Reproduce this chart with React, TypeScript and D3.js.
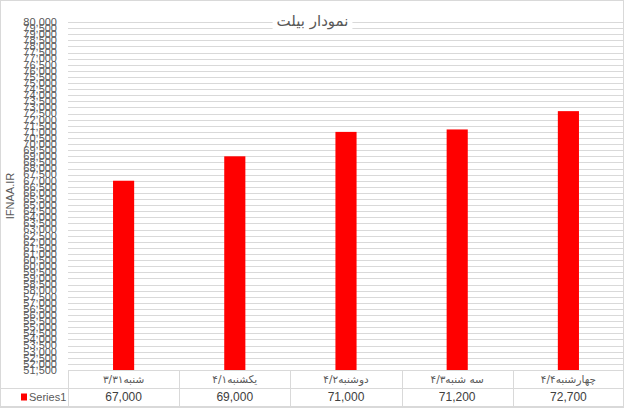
import React, { useEffect, useRef } from "react";
import * as d3 from "d3";

// Data
const CATEGORIES = ["شنبه۳/۳۱", "یکشنبه۴/۱", "دوشنبه۴/۲", "سه شنبه۴/۳", "چهارشنبه۴/۴"];
const VALUES = [67000, 69000, 71000, 71200, 72700];
const SERIES_NAME = "Series1";
const TITLE = "نمودار بیلت";
const Y_LABEL = "IFNAA.IR";
const Y_MIN = 51500;
const Y_MAX = 80000;
const Y_STEP = 500;

const W = 625;
const H = 409;
const GRID = "#d9d9d9";
const TEXT = "#595959";
const FONT = "'Liberation Sans', 'DejaVu Sans', Arial, sans-serif";

export default function App() {
    const ref = useRef<SVGSVGElement | null>(null);

    useEffect(() => {
        if (!ref.current) return;
        const svg = d3.select(ref.current);
        svg.selectAll("*").remove();

        const plot = { left: 68, right: 624, top: 22, bottom: 370 };
        const rowH = 18;

        const x = d3.scaleBand<string>().domain(CATEGORIES).range([plot.left, plot.right]).padding(0);
        const y = d3.scaleLinear().domain([Y_MIN, Y_MAX]).range([plot.bottom, plot.top]);
        const ticks = d3.range(Y_MIN, Y_MAX + 1, Y_STEP);
        const fmt = d3.format(",");

        // chart background + border
        svg.append("rect").attr("x", 0.5).attr("y", 0.5).attr("width", W - 2).attr("height", H - 2)
            .attr("fill", "#fff").attr("stroke", GRID);

        // gridlines
        svg.append("g").selectAll("line").data(ticks).join("line")
            .attr("x1", plot.left).attr("x2", plot.right)
            .attr("y1", d => Math.round(y(d)) + 0.5).attr("y2", d => Math.round(y(d)) + 0.5)
            .attr("stroke", GRID).attr("stroke-width", 1);

        // y tick labels (they overlap, as in the original)
        svg.append("g").selectAll("text").data(ticks).join("text")
            .attr("x", 57).attr("y", d => y(d))
            .attr("dy", "0.35em")
            .attr("text-anchor", "end")
            .attr("font-family", FONT).attr("font-size", 11).attr("fill", TEXT)
            .text(d => fmt(d));

        // y axis title
        svg.append("text")
            .attr("transform", `translate(14,${(plot.top + plot.bottom) / 2}) rotate(-90)`)
            .attr("text-anchor", "middle")
            .attr("font-family", FONT).attr("font-size", 11).attr("fill", TEXT)
            .text(Y_LABEL);

        // bars
        const barW = x.bandwidth() * 0.19;
        svg.append("g").selectAll("rect").data(VALUES).join("rect")
            .attr("x", (d, i) => (x(CATEGORIES[i]) as number) + (x.bandwidth() - barW) / 2)
            .attr("y", d => y(d))
            .attr("width", barW)
            .attr("height", d => plot.bottom - y(d))
            .attr("fill", "#ff0000");

        // data table
        const table = svg.append("g").attr("stroke", GRID).attr("stroke-width", 1);
        table.append("line").attr("x1", plot.left).attr("x2", plot.right)
            .attr("y1", plot.bottom + 0.5).attr("y2", plot.bottom + 0.5);
        table.append("line").attr("x1", 0).attr("x2", plot.right)
            .attr("y1", plot.bottom + rowH + 0.5).attr("y2", plot.bottom + rowH + 0.5);
        table.append("line").attr("x1", 0).attr("x2", plot.right)
            .attr("y1", plot.bottom + rowH * 2 + 0.5).attr("y2", plot.bottom + rowH * 2 + 0.5);
        table.selectAll("line.v").data(CATEGORIES).join("line")
            .attr("class", "v")
            .attr("x1", d => Math.round(x(d) as number) + 0.5).attr("x2", d => Math.round(x(d) as number) + 0.5)
            .attr("y1", plot.bottom).attr("y2", plot.bottom + rowH * 2);

        svg.append("g").selectAll("text").data(CATEGORIES).join("text")
            .attr("x", d => (x(d) as number) + x.bandwidth() / 2)
            .attr("y", plot.bottom + rowH / 2)
            .attr("dy", "0.35em")
            .attr("text-anchor", "middle")
            .attr("font-family", "'DejaVu Sans', sans-serif").attr("font-size", 10.5).attr("fill", TEXT)
            .text(d => d);

        svg.append("g").selectAll("text").data(VALUES).join("text")
            .attr("x", (d, i) => (x(CATEGORIES[i]) as number) + x.bandwidth() / 2)
            .attr("y", plot.bottom + rowH * 1.5)
            .attr("dy", "0.35em")
            .attr("text-anchor", "middle")
            .attr("font-family", FONT).attr("font-size", 12).attr("fill", "#404040")
            .text(d => fmt(d));

        // legend key
        svg.append("rect").attr("x", 21).attr("y", plot.bottom + rowH * 1.5 - 3.5)
            .attr("width", 6).attr("height", 7).attr("fill", "#ff0000");
        svg.append("text").attr("x", 29).attr("y", plot.bottom + rowH * 1.5)
            .attr("dy", "0.35em")
            .attr("font-family", FONT).attr("font-size", 11).attr("fill", TEXT)
            .text(SERIES_NAME);

        // title with white backdrop over the gridlines
        const title = svg.append("text")
            .attr("x", W / 2).attr("y", 26)
            .attr("text-anchor", "middle")
            .attr("font-family", "'DejaVu Sans', sans-serif").attr("font-size", 15).attr("fill", TEXT)
            .text(TITLE);
        const bb = (title.node() as SVGTextElement).getBBox();
        svg.insert("rect", () => title.node())
            .attr("x", bb.x - 4).attr("y", bb.y).attr("width", bb.width + 8).attr("height", bb.height)
            .attr("fill", "#fff");
    }, []);

    return (
        <div>
            <style>{`body{margin:0}`}</style>
            <svg ref={ref} width={W} height={H} style={{ display: "block" }} />
        </div>
    );
}
